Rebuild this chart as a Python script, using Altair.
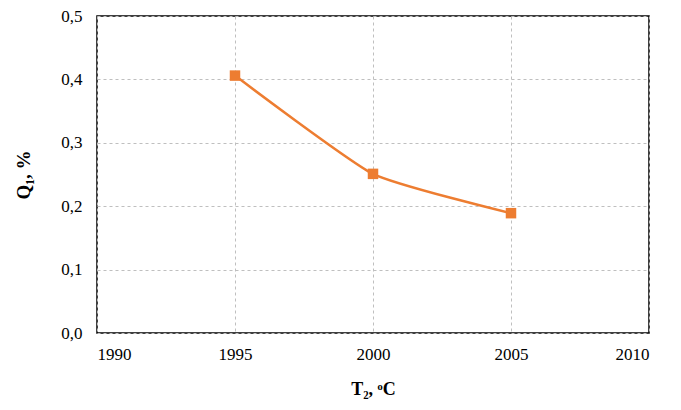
import altair as alt
import pandas as pd

years = [1995, 2000, 2005]
q_values = [0.406, 0.251, 0.189]

df = pd.DataFrame({"T": years, "Q": q_values})

FONT = "Liberation Serif"
ORANGE = "#ED7D31"

x = alt.X("T:Q",
          scale=alt.Scale(domain=[1990, 2010], nice=False, zero=False),
          axis=alt.Axis(values=[1990, 1995, 2000, 2005, 2010], format="d",
                        title="T₂, ᵒC", titleFontWeight="bold", titleFontSize=18,
                        titlePadding=18, labelPadding=13))
y = alt.Y("Q:Q",
          scale=alt.Scale(domain=[0, 0.5], nice=False),
          axis=alt.Axis(values=[0, 0.1, 0.2, 0.3, 0.4, 0.5],
                        labelExpr="replace(format(datum.value, '.1f'), '.', ',')",
                        title="Q₁, %", titleFontWeight="bold", titleFontSize=19,
                        titlePadding=27, labelPadding=15))

line = alt.Chart(df).mark_line(color=ORANGE, strokeWidth=2.5, interpolate="cardinal",
                               tension=0.5).encode(x=x, y=y)
pts = alt.Chart(df).mark_point(shape="square", filled=True, color=ORANGE, size=110, opacity=1).encode(x="T:Q", y="Q:Q")

chart = (line + pts).properties(
    width=552, height=317,
    autosize=alt.AutoSizeParams(type="none"),
    padding={"left": 89, "top": 8, "right": 24, "bottom": 69},
).configure_axis(
    labelFont=FONT, titleFont=FONT, labelFontSize=17, labelColor="#000000",
    titleColor="#000000", ticks=False, domain=False,
    grid=True, gridColor="#BFBFBF", gridDash=[3, 3], gridWidth=1,
).configure_view(stroke="#000000", strokeWidth=1.5)

chart.save("out.html", embed_options={"renderer": "svg", "actions": False})
